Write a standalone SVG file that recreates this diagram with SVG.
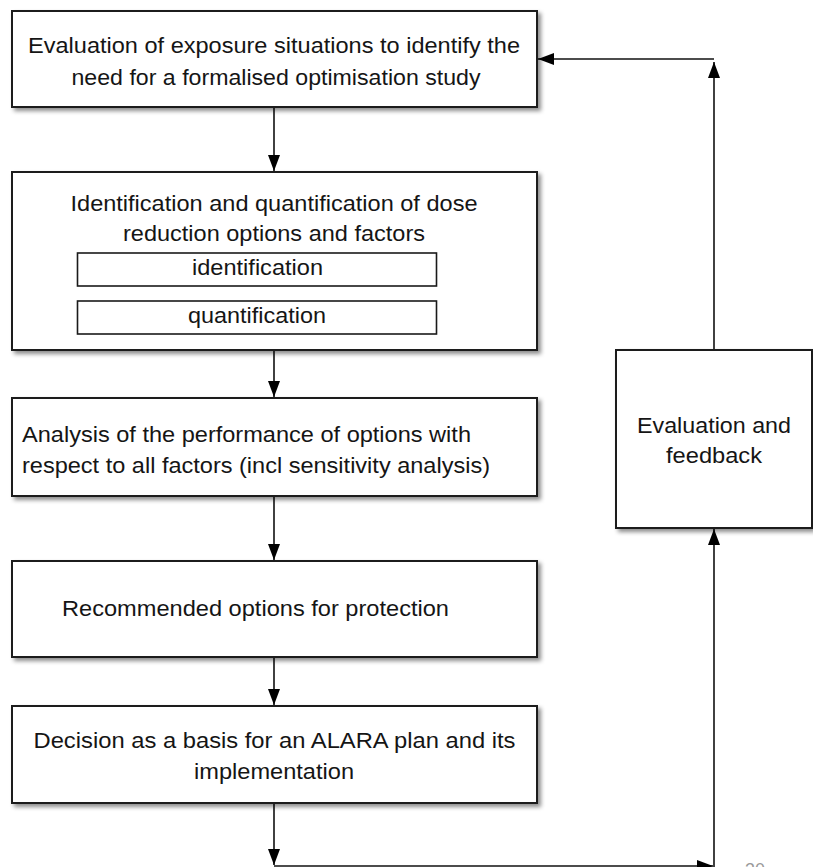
<svg xmlns="http://www.w3.org/2000/svg" width="813" height="867" viewBox="0 0 813 867">
  <defs>
    <filter id="shadow" x="-5%" y="-5%" width="115%" height="120%">
      <feDropShadow dx="3" dy="3" stdDeviation="2" flood-color="#000" flood-opacity="0.45"/>
    </filter>
    <marker id="arrow" viewBox="0 0 16 12" refX="16" refY="6" markerWidth="16" markerHeight="12" markerUnits="userSpaceOnUse" orient="auto">
      <path d="M0,0 L16,6 L0,12 Z" fill="#000"/>
    </marker>
  </defs>
  <style>
    .box { fill: #fff; stroke: #1a1a1a; stroke-width: 2; }
    .sub { fill: #fff; stroke: #1a1a1a; stroke-width: 1.6; }
    .lbl { font-family: "Liberation Sans", Arial, sans-serif; font-size: 22.5px; fill: #151515; }
    .mid { text-anchor: middle; }
    .conn { fill: none; stroke: #111; stroke-width: 1.6; }
    .page { font-family: "Liberation Sans", Arial, sans-serif; font-size: 18px; fill: #9a9a9a; }
  </style>

  <rect width="813" height="867" fill="#fff"/>

  <!-- connectors -->
  <g id="connectors">
    <line class="conn" x1="274" y1="107" x2="274" y2="171" marker-end="url(#arrow)"/>
    <line class="conn" x1="274" y1="350" x2="274" y2="397" marker-end="url(#arrow)"/>
    <line class="conn" x1="274" y1="496" x2="274" y2="560" marker-end="url(#arrow)"/>
    <line class="conn" x1="274" y1="657" x2="274" y2="705" marker-end="url(#arrow)"/>
    <line class="conn" x1="274" y1="803" x2="274" y2="865" marker-end="url(#arrow)"/>
    <line class="conn" x1="274" y1="866" x2="713" y2="866" marker-end="url(#arrow)"/>
    <line class="conn" x1="714" y1="867" x2="714" y2="529" marker-end="url(#arrow)"/>
    <line class="conn" x1="714" y1="350" x2="714" y2="62" marker-end="url(#arrow)"/>
    <line class="conn" x1="714" y1="59" x2="538" y2="59" marker-end="url(#arrow)"/>
  </g>

  <!-- step 1 -->
  <g id="evaluation-of-exposure">
    <rect class="box" x="12" y="11" width="525" height="96" filter="url(#shadow)"/>
    <text class="lbl mid" x="274" y="53" textLength="492" lengthAdjust="spacingAndGlyphs">Evaluation of exposure situations to identify the</text>
    <text class="lbl mid" x="276" y="85" textLength="409" lengthAdjust="spacingAndGlyphs">need for a formalised optimisation study</text>
  </g>

  <!-- step 2 -->
  <g id="identification-quantification">
    <rect class="box" x="12" y="172" width="525" height="178" filter="url(#shadow)"/>
    <text class="lbl mid" x="274" y="211" textLength="407" lengthAdjust="spacingAndGlyphs">Identification and quantification of dose</text>
    <text class="lbl mid" x="274" y="241" textLength="302" lengthAdjust="spacingAndGlyphs">reduction options and factors</text>
    <g id="identification">
      <rect class="sub" x="77.5" y="253" width="359" height="33"/>
      <text class="lbl mid" x="257.5" y="275" textLength="131" lengthAdjust="spacingAndGlyphs">identification</text>
    </g>
    <g id="quantification">
      <rect class="sub" x="77.5" y="301" width="359" height="33"/>
      <text class="lbl mid" x="257" y="323" textLength="138" lengthAdjust="spacingAndGlyphs">quantification</text>
    </g>
  </g>

  <!-- step 3 -->
  <g id="analysis-of-performance">
    <rect class="box" x="12" y="398" width="525" height="98" filter="url(#shadow)"/>
    <text class="lbl" x="22" y="442" textLength="449" lengthAdjust="spacingAndGlyphs">Analysis of the performance of options with</text>
    <text class="lbl" x="22" y="473" textLength="468" lengthAdjust="spacingAndGlyphs">respect to all factors (incl sensitivity analysis)</text>
  </g>

  <!-- step 4 -->
  <g id="recommended-options">
    <rect class="box" x="12" y="561" width="525" height="96" filter="url(#shadow)"/>
    <text class="lbl" x="62" y="616" textLength="387" lengthAdjust="spacingAndGlyphs">Recommended options for protection</text>
  </g>

  <!-- step 5 -->
  <g id="decision">
    <rect class="box" x="12" y="706" width="525" height="97" filter="url(#shadow)"/>
    <text class="lbl mid" x="274.5" y="748" textLength="482" lengthAdjust="spacingAndGlyphs">Decision as a basis for an ALARA plan and its</text>
    <text class="lbl mid" x="274" y="779" textLength="160" lengthAdjust="spacingAndGlyphs">implementation</text>
  </g>

  <!-- feedback loop -->
  <g id="evaluation-feedback">
    <rect class="box" x="616" y="350" width="196" height="178" filter="url(#shadow)"/>
    <text class="lbl mid" x="714" y="433" textLength="154" lengthAdjust="spacingAndGlyphs">Evaluation and</text>
    <text class="lbl mid" x="714" y="463" textLength="96" lengthAdjust="spacingAndGlyphs">feedback</text>
  </g>

  <!-- page number -->
  <text class="page" x="745" y="876">30</text>
</svg>
